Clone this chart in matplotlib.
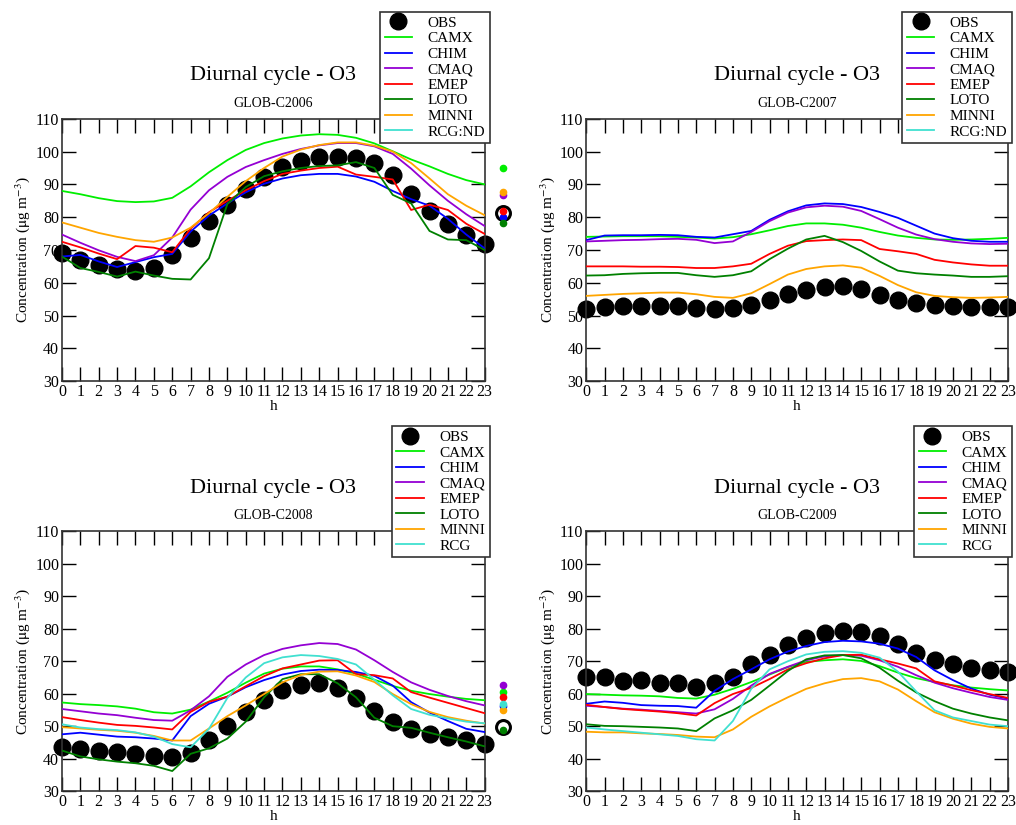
import numpy as np
import matplotlib
matplotlib.use("Agg")
import matplotlib.pyplot as plt

plt.rcParams['font.family'] = ['Liberation Serif', 'DejaVu Serif']
plt.rcParams['mathtext.fontset'] = 'stix'

hours = np.arange(24)
models = ['CAMX', 'CHIM', 'CMAQ', 'EMEP', 'LOTO', 'MINNI']
colors = {'CAMX': '#00ee00', 'CHIM': '#0000ff', 'CMAQ': '#9400d3', 'EMEP': '#ff0000',
          'LOTO': '#008000', 'MINNI': '#ffa500', 'RCG': '#40e0d0'}

# ---- GLOB-C2006 ----
obs_2006 = [69.0, 66.8, 65.3, 64.1, 63.6, 64.6, 68.6, 73.8, 78.7, 83.8, 88.5, 92.4,
            95.2, 97.0, 98.2, 98.5, 98.0, 96.5, 93.0, 87.2, 82.0, 78.0, 74.6, 71.7]
camx_2006 = [88.0, 87.0, 85.8, 84.9, 84.6, 84.8, 85.9, 89.4, 93.7, 97.4, 100.5, 102.6,
             104.0, 104.9, 105.3, 105.1, 104.2, 102.5, 100.1, 97.6, 95.5, 93.2, 91.3, 90.0]
chim_2006 = [68.0, 68.5, 66.5, 64.8, 66.3, 67.8, 68.8, 75.6, 80.5, 84.2, 87.6, 90.2,
             91.8, 92.8, 93.2, 93.2, 92.4, 90.8, 88.0, 85.5, 83.5, 79.5, 74.7, 70.5]
cmaq_2006 = [74.7, 72.2, 69.9, 67.9, 66.6, 68.4, 73.8, 82.3, 88.2, 92.3, 95.3, 97.4,
             99.3, 100.8, 101.9, 102.6, 102.6, 101.6, 99.3, 94.8, 89.7, 85.0, 80.9, 77.3]
emep_2006 = [72.5, 70.8, 68.9, 67.2, 71.2, 70.7, 69.3, 76.5, 81.5, 85.0, 88.2, 91.0,
             93.2, 94.2, 95.0, 95.4, 93.0, 92.3, 91.5, 82.2, 83.8, 82.2, 78.0, 74.9]
loto_2006 = [68.0, 64.5, 63.3, 61.9, 63.4, 62.2, 61.2, 61.0, 67.5, 84.0, 89.2, 92.5,
             94.0, 95.0, 95.6, 95.8, 96.8, 95.0, 86.8, 84.2, 75.8, 73.2, 73.0, 70.0]
minni_2006 = [78.4, 76.8, 75.2, 74.0, 73.0, 72.5, 73.8, 76.8, 81.2, 86.2, 91.0, 95.0,
              98.5, 100.6, 102.0, 102.8, 102.8, 101.8, 100.0, 96.5, 91.8, 87.0, 83.5, 80.6]

# ---- GLOB-C2007 ----
obs_2007 = [52.0, 52.7, 52.8, 52.9, 52.9, 52.8, 52.3, 52.0, 52.2, 53.2, 54.8, 56.6,
            57.8, 58.8, 58.9, 58.0, 56.3, 54.8, 53.8, 53.3, 53.0, 52.6, 52.6, 52.6]
camx_2007 = [74.0, 74.1, 74.2, 74.2, 74.2, 74.0, 73.8, 73.5, 73.9, 74.8, 76.0, 77.3,
             78.1, 78.1, 77.7, 76.8, 75.5, 74.4, 73.7, 73.2, 73.1, 73.2, 73.4, 73.7]
chim_2007 = [73.0, 74.4, 74.5, 74.5, 74.6, 74.5, 74.0, 73.8, 74.8, 75.8, 79.2, 81.8,
             83.6, 84.2, 84.0, 83.1, 81.6, 79.8, 77.4, 75.0, 73.6, 72.8, 72.5, 72.5]
cmaq_2007 = [72.6, 72.8, 73.0, 73.1, 73.3, 73.4, 73.1, 72.1, 72.6, 75.5, 78.8, 81.4,
             83.0, 83.5, 83.2, 81.9, 79.4, 76.8, 74.7, 73.3, 72.5, 72.0, 71.8, 71.9]
emep_2007 = [65.0, 65.0, 65.0, 64.9, 64.9, 64.8, 64.5, 64.5, 65.0, 65.8, 68.8, 71.3,
             72.7, 73.0, 73.2, 73.0, 70.3, 69.6, 68.8, 67.0, 66.2, 65.6, 65.2, 65.2]
loto_2007 = [62.2, 62.3, 62.7, 62.9, 63.0, 63.0, 62.3, 61.8, 62.3, 63.5, 67.2, 70.4,
             73.2, 74.3, 72.4, 69.7, 66.5, 63.7, 62.9, 62.5, 62.2, 61.8, 61.8, 62.0]
minni_2007 = [56.0, 56.3, 56.6, 56.8, 57.0, 57.0, 56.5, 55.7, 55.4, 56.8, 59.6, 62.5,
              64.2, 65.0, 65.3, 64.6, 62.1, 59.3, 57.1, 56.0, 55.6, 55.4, 55.5, 55.7]

# ---- GLOB-C2008 ----
obs_2008 = [43.6, 43.0, 42.4, 42.0, 41.5, 40.7, 40.6, 41.7, 45.7, 50.2, 54.5, 58.2,
            61.0, 62.8, 63.4, 61.8, 58.6, 54.8, 51.4, 49.1, 47.6, 46.7, 45.6, 44.5]
camx_2008 = [57.3, 56.8, 56.5, 56.1, 55.4, 54.3, 53.9, 55.1, 57.6, 60.3, 63.4, 66.2,
             67.7, 68.4, 68.4, 67.5, 66.2, 64.3, 62.4, 60.9, 59.9, 59.1, 58.4, 58.0]
chim_2008 = [47.5, 48.0, 47.4, 46.8, 46.6, 46.2, 45.6, 53.1, 56.9, 59.1, 62.0, 64.2,
             65.9, 67.0, 67.4, 67.3, 66.7, 65.5, 62.5, 57.4, 54.2, 51.6, 49.2, 48.2]
cmaq_2008 = [55.3, 54.6, 53.9, 53.4, 52.6, 51.9, 51.7, 54.9, 59.2, 65.2, 69.0, 71.9,
             73.8, 74.9, 75.6, 75.3, 73.6, 70.3, 66.7, 63.5, 61.2, 59.3, 57.7, 56.4]
emep_2008 = [52.8, 51.9, 51.1, 50.4, 50.1, 49.6, 49.0, 54.4, 57.5, 59.1, 62.3, 65.4,
             67.8, 69.0, 70.2, 70.3, 66.0, 65.7, 64.7, 60.5, 58.8, 57.2, 55.6, 54.0]
loto_2008 = [42.5, 40.7, 39.8, 39.1, 38.6, 37.8, 36.2, 41.5, 43.2, 46.2, 51.4, 58.9,
             64.5, 66.0, 66.0, 63.2, 58.9, 52.6, 50.0, 49.5, 48.0, 46.6, 45.3, 43.8]
minni_2008 = [49.7, 49.3, 48.9, 48.6, 48.0, 47.0, 45.6, 45.6, 49.3, 53.1, 56.4, 59.9,
              63.5, 65.8, 66.8, 66.9, 65.6, 63.6, 59.9, 56.8, 54.4, 52.8, 51.7, 50.8]
rcg_2008 = [50.6, 49.6, 49.1, 48.8, 48.1, 46.8, 44.5, 43.5, 49.2, 58.7, 65.0, 69.4,
            71.2, 71.9, 71.6, 70.7, 69.0, 64.3, 59.5, 55.3, 53.5, 52.4, 51.4, 50.9]

# ---- GLOB-C2009 ----
obs_2009 = [65.0, 65.0, 64.0, 64.3, 63.3, 63.2, 62.1, 63.4, 65.2, 69.0, 71.8, 75.0,
            77.1, 78.6, 79.3, 79.1, 77.7, 75.3, 72.6, 70.5, 69.0, 67.9, 67.3, 66.6]
camx_2009 = [59.9, 59.7, 59.5, 59.4, 59.2, 58.7, 58.5, 59.7, 61.5, 63.6, 65.9, 68.2,
             69.8, 70.3, 70.6, 70.1, 68.5, 66.5, 64.8, 63.6, 62.6, 61.9, 61.4, 61.0]
chim_2009 = [56.9, 57.6, 57.2, 56.5, 56.3, 56.2, 55.7, 60.9, 64.5, 67.5, 70.6, 73.0,
             74.7, 75.9, 76.3, 76.1, 75.4, 73.9, 71.3, 67.2, 64.2, 61.6, 59.7, 58.5]
cmaq_2009 = [56.3, 55.9, 55.4, 55.1, 54.7, 54.3, 53.9, 55.2, 58.4, 62.5, 66.1, 68.3,
             70.3, 71.5, 71.9, 71.7, 70.3, 68.3, 65.7, 63.4, 61.7, 60.3, 59.0, 58.1]
emep_2009 = [56.6, 55.9, 55.3, 54.9, 54.5, 54.0, 53.3, 57.1, 59.9, 61.8, 64.5, 67.5,
             69.4, 70.9, 71.9, 72.0, 70.6, 69.3, 67.8, 63.8, 62.5, 61.1, 59.9, 58.7]
loto_2009 = [50.6, 50.1, 50.0, 49.8, 49.6, 49.3, 48.5, 52.4, 54.9, 58.1, 62.5, 67.0,
             70.6, 71.8, 71.9, 70.9, 68.0, 64.0, 60.4, 57.7, 55.4, 53.9, 52.7, 51.8]
minni_2009 = [48.3, 48.1, 48.1, 47.8, 47.6, 47.3, 46.8, 46.6, 49.0, 52.9, 56.1, 58.9,
              61.5, 63.2, 64.5, 64.8, 63.8, 61.3, 57.7, 54.3, 52.3, 50.8, 49.8, 49.3]
rcg_2009 = [49.6, 49.0, 48.5, 48.0, 47.5, 47.0, 46.0, 45.6, 51.6, 61.5, 67.5, 70.0,
            72.1, 72.9, 73.1, 72.6, 71.1, 66.8, 60.7, 54.9, 52.7, 51.6, 50.5, 50.0]

panels = [
    ('GLOB-C2006', obs_2006, {'CAMX': camx_2006, 'CHIM': chim_2006, 'CMAQ': cmaq_2006,
                              'EMEP': emep_2006, 'LOTO': loto_2006, 'MINNI': minni_2006}, 'RCG:ND'),
    ('GLOB-C2007', obs_2007, {'CAMX': camx_2007, 'CHIM': chim_2007, 'CMAQ': cmaq_2007,
                              'EMEP': emep_2007, 'LOTO': loto_2007, 'MINNI': minni_2007}, 'RCG:ND'),
    ('GLOB-C2008', obs_2008, {'CAMX': camx_2008, 'CHIM': chim_2008, 'CMAQ': cmaq_2008,
                              'EMEP': emep_2008, 'LOTO': loto_2008, 'MINNI': minni_2008,
                              'RCG': rcg_2008}, 'RCG'),
    ('GLOB-C2009', obs_2009, {'CAMX': camx_2009, 'CHIM': chim_2009, 'CMAQ': cmaq_2009,
                              'EMEP': emep_2009, 'LOTO': loto_2009, 'MINNI': minni_2009,
                              'RCG': rcg_2009}, 'RCG'),
]

fig = plt.figure(figsize=(10.16, 8.25), dpi=100)

# axes boxes [left, bottom, width, height] and legend anchors (figure fraction)
boxes = [[0.061, 0.538, 0.416, 0.318], [0.577, 0.538, 0.415, 0.318],
         [0.061, 0.041, 0.416, 0.315], [0.577, 0.041, 0.415, 0.315]]
leg_anchor = [(0.482, 0.986), (0.996, 0.986), (0.482, 0.484), (0.996, 0.484)]

for i, (name, obs, mod, rcg_label) in enumerate(panels):
    ax = fig.add_axes(boxes[i])
    ax.plot(hours, obs, 'o', color='black', ms=12, label='OBS', zorder=2, clip_on=False)
    for m in models:
        ax.plot(hours, mod[m], color=colors[m], lw=1.3, label=m, zorder=3)
    if 'RCG' in mod:
        ax.plot(hours, mod['RCG'], color=colors['RCG'], lw=1.3, label=rcg_label, zorder=3)
    else:
        ax.plot([], [], color=colors['RCG'], lw=1.3, label=rcg_label)

    # mean values drawn beside the axis
    ax.plot(24, np.mean(obs), 'o', ms=10, mfc='none', mec='black', mew=2.2, clip_on=False, zorder=4)
    for m in list(mod.keys()):
        ax.plot(24, np.mean(mod[m]), 'o', ms=4.5, color=colors[m], clip_on=False, zorder=5)

    ax.set_xlim(0, 23)
    ax.set_ylim(30, 110)
    ax.set_xticks(hours)
    ax.set_yticks(np.arange(30, 111, 10))
    ax.tick_params(direction='in', length=10, width=1, top=True, right=True,
                   labelsize=11.5, pad=2)
    ax.tick_params(axis='x', pad=2)
    for s in ax.spines.values():
        s.set_linewidth(1.2)
        s.set_color('#333333')
    ax.set_xlabel('h', fontsize=11, labelpad=0)
    ax.set_ylabel(r'Concentration ($\mathrm{\mu}$g m$^{-3}$)', fontsize=11, labelpad=2)

    cx = boxes[i][0] + boxes[i][2] / 2
    top = boxes[i][1] + boxes[i][3]
    fig.text(cx, top + 0.052, 'Diurnal cycle - O3', ha='center', va='center', fontsize=16)
    fig.text(cx, top + 0.019, name, ha='center', va='center', fontsize=10)

    leg = ax.legend(loc='upper right', bbox_to_anchor=leg_anchor[i], bbox_transform=fig.transFigure,
                    fontsize=11, frameon=True, fancybox=False, framealpha=1, edgecolor='#333333',
                    labelspacing=0.12, handlelength=1.8, handletextpad=1.0, borderpad=0.3,
                    borderaxespad=0)
    leg.get_frame().set_linewidth(1.2)
    leg.set_zorder(10)

fig.savefig('out.png', dpi=100)
